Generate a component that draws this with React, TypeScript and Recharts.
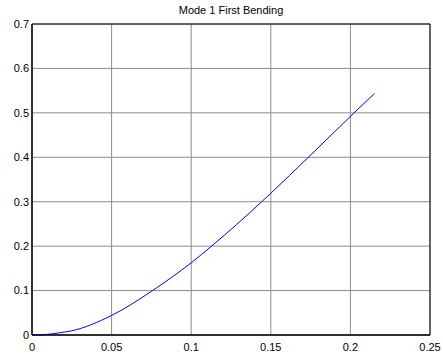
import React from 'react';
import { LineChart, Line, XAxis, YAxis, CartesianGrid, ReferenceArea } from 'recharts';

const xValues = [0, 0.01, 0.0174, 0.025, 0.05, 0.0757, 0.1, 0.1128, 0.1443, 0.15, 0.1736, 0.2023, 0.2151];
const yValues = [0, 0.0015, 0.005, 0.0095, 0.044, 0.1, 0.1625, 0.2, 0.3, 0.319, 0.4, 0.5, 0.5435];
const xTicks = [0, 0.05, 0.1, 0.15, 0.2, 0.25];
const yTicks = [0, 0.1, 0.2, 0.3, 0.4, 0.5, 0.6, 0.7];
const title = 'Mode 1 First Bending';

const data = xValues.map((x, i) => ({ x, y: yValues[i] }));

const font = 'Liberation Sans, Arial, sans-serif';

export default function App() {
  return (
    <div style={{ position: 'absolute', left: 0, top: 0, width: 443, height: 358, background: '#fff' }}>
      <div style={{ position: 'absolute', left: 32, width: 398, top: 4, textAlign: 'center', fontFamily: font, fontSize: 11, color: '#000' }}>
        {title}
      </div>
      <LineChart width={443} height={358} data={data} margin={{ top: 24, right: 13, left: 0, bottom: 0 }}>
        <CartesianGrid stroke="#8c8c8c" strokeWidth={1} />
        <XAxis
          dataKey="x"
          type="number"
          domain={[0, 0.25]}
          ticks={xTicks}
          tickFormatter={(v: number) => String(v)}
          height={23}
          tickSize={0}
          tickMargin={8}
          axisLine={{ stroke: '#000' }}
          tick={{ fill: '#000', fontSize: 11, fontFamily: font }}
        />
        <YAxis
          type="number"
          domain={[0, 0.7]}
          ticks={yTicks}
          tickFormatter={(v: number) => String(v)}
          width={32}
          tickSize={0}
          tickMargin={3}
          axisLine={{ stroke: '#000' }}
          tick={{ fill: '#000', fontSize: 11, fontFamily: font }}
        />
        <ReferenceArea x1={0} x2={0.25} y1={0} y2={0.7} fill="none" fillOpacity={0} stroke="#000" strokeWidth={1} ifOverflow="visible" />
        <Line type="monotone" dataKey="y" stroke="#0000ff" strokeWidth={1} dot={false} isAnimationActive={false} />
      </LineChart>
    </div>
  );
}
